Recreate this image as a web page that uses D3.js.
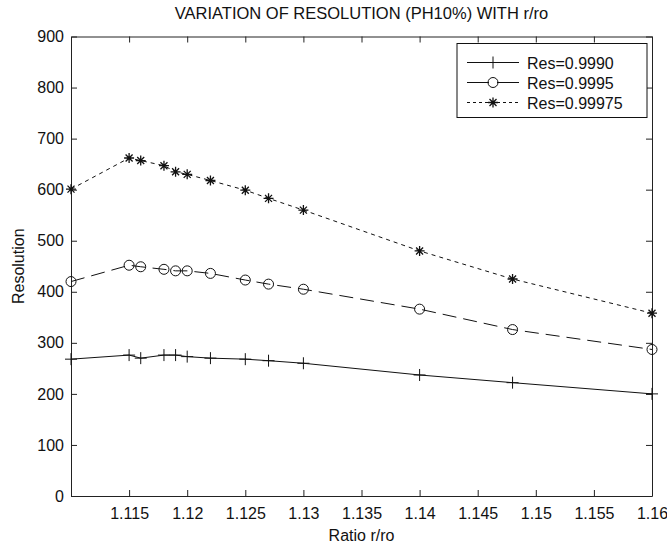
<!DOCTYPE html>
<html>
<head>
<meta charset="utf-8">
<script src="https://cdn.jsdelivr.net/npm/d3@7"></script>
<style>
  body { margin: 0; background: #fff; }
  svg text { font-family: "Liberation Sans", Arial, sans-serif; fill: #111; }
</style>
</head>
<body>
<div class="vis"></div>
<script>
// data
var ratios    = [1.110, 1.115, 1.116, 1.118, 1.119, 1.120, 1.122, 1.125, 1.127, 1.130, 1.140, 1.148, 1.160];
var res9990   = [268, 276, 270, 276, 276, 273, 270, 268, 265, 260, 237, 222, 200];
var res9995   = [420, 452, 449, 444, 441, 441, 436, 423, 415, 405, 366, 326, 287];
var res99975  = [601, 662, 657, 647, 635, 630, 618, 599, 583, 560, 480, 425, 358];
var seriesNames = ['Res=0.9990', 'Res=0.9995', 'Res=0.99975'];
var xTicks = [1.115, 1.12, 1.125, 1.13, 1.135, 1.14, 1.145, 1.15, 1.155, 1.16];
var yTicks = [0, 100, 200, 300, 400, 500, 600, 700, 800, 900];

var series = [
    { name: seriesNames[0], values: res9990,  dash: null,   legendDash: null,       marker: 'plus'   },
    { name: seriesNames[1], values: res9995,  dash: '14,7', legendDash: '22,8,22',  marker: 'circle' },
    { name: seriesNames[2], values: res99975, dash: '4,4',  legendDash: '3,3',      marker: 'star'   }
];

var W = 667, H = 545;
var plotL = 71, plotR = 652, plotT = 36.5, plotB = 496;
var fontSize = '16px';

var svg = d3.select('div.vis').append('svg')
            .attr('width', W)
            .attr('height', H);

var x = d3.scaleLinear().domain([1.11, 1.16]).range([plotL, plotR]);
var y = d3.scaleLinear().domain([0, 900]).range([plotB, plotT]);

function fmt(d) { return String(+d.toFixed(3)); }

// axes, ticks pointing inward (matlab style box)
svg.append('g')
   .attr('transform', 'translate(0,' + plotB + ')')
   .call(d3.axisBottom(x).tickValues(xTicks).tickSizeInner(-6).tickSizeOuter(0).tickPadding(12).tickFormat(fmt));
svg.append('g')
   .attr('transform', 'translate(0,' + plotT + ')')
   .call(d3.axisTop(x).tickValues(xTicks).tickSizeInner(-6).tickSizeOuter(0).tickFormat(''));
svg.append('g')
   .attr('transform', 'translate(' + plotL + ',0)')
   .call(d3.axisLeft(y).tickValues(yTicks).tickSizeInner(-6).tickSizeOuter(0).tickPadding(7));
svg.append('g')
   .attr('transform', 'translate(' + plotR + ',0)')
   .call(d3.axisRight(y).tickValues(yTicks).tickSizeInner(-6).tickSizeOuter(0).tickFormat(''));

svg.selectAll('.domain').attr('stroke', '#222');
svg.selectAll('.tick line').attr('stroke', '#222');
svg.selectAll('.tick text').style('font-size', fontSize).attr('fill', '#111');

// lines
var line = d3.line()
             .x(function(d) { return x(d[0]); })
             .y(function(d) { return y(d[1]); });

function drawMarker(g, type, cx, cy) {
    if (type === 'plus') {
        g.append('path').attr('d', 'M' + (cx - 6) + ',' + cy + 'H' + (cx + 6) + 'M' + cx + ',' + (cy - 6) + 'V' + (cy + 6))
         .attr('stroke', '#111').attr('fill', 'none');
    } else if (type === 'circle') {
        g.append('circle').attr('cx', cx).attr('cy', cy).attr('r', 5)
         .attr('stroke', '#111').attr('fill', 'none');
    } else {
        var r = 5, p = '';
        p += 'M' + (cx - r) + ',' + cy + 'H' + (cx + r);
        p += 'M' + cx + ',' + (cy - r) + 'V' + (cy + r);
        p += 'M' + (cx - r * 0.7) + ',' + (cy - r * 0.7) + 'L' + (cx + r * 0.7) + ',' + (cy + r * 0.7);
        p += 'M' + (cx - r * 0.7) + ',' + (cy + r * 0.7) + 'L' + (cx + r * 0.7) + ',' + (cy - r * 0.7);
        g.append('path').attr('d', p).attr('stroke', '#111').attr('stroke-width', 1.3).attr('fill', 'none');
    }
}

series.forEach(function(s) {
    var pts = ratios.map(function(r, i) { return [r, s.values[i]]; });
    svg.append('path')
       .datum(pts)
       .attr('d', line)
       .attr('fill', 'none')
       .attr('stroke', '#111')
       .attr('stroke-width', 1)
       .attr('stroke-dasharray', s.dash);
    var mg = svg.append('g');
    pts.forEach(function(p) { drawMarker(mg, s.marker, x(p[0]), y(p[1])); });
});

// legend
var lg = svg.append('g');
lg.append('rect')
  .attr('x', 457).attr('y', 43.5).attr('width', 190).attr('height', 74)
  .attr('fill', '#fff').attr('stroke', '#111');
series.forEach(function(s, i) {
    var ly = 62.5 + i * 20;
    lg.append('line')
      .attr('x1', 467).attr('x2', 519).attr('y1', ly).attr('y2', ly)
      .attr('stroke', '#111').attr('stroke-dasharray', s.legendDash);
    drawMarker(lg, s.marker, 493, ly);
    lg.append('text')
      .attr('x', 527).attr('y', ly + 6)
      .style('font-size', fontSize)
      .text(s.name);
});

// titles
svg.append('text')
   .attr('x', (plotL + plotR) / 2).attr('y', 19)
   .attr('text-anchor', 'middle')
   .style('font-size', '16.5px')
   .text('VARIATION OF RESOLUTION (PH10%) WITH r/ro');
svg.append('text')
   .attr('x', (plotL + plotR) / 2).attr('y', 541)
   .attr('text-anchor', 'middle')
   .style('font-size', fontSize)
   .text('Ratio r/ro');
svg.append('text')
   .attr('transform', 'translate(24,' + ((plotT + plotB) / 2) + ') rotate(-90)')
   .attr('text-anchor', 'middle')
   .style('font-size', fontSize)
   .text('Resolution');
</script>
</body>
</html>
